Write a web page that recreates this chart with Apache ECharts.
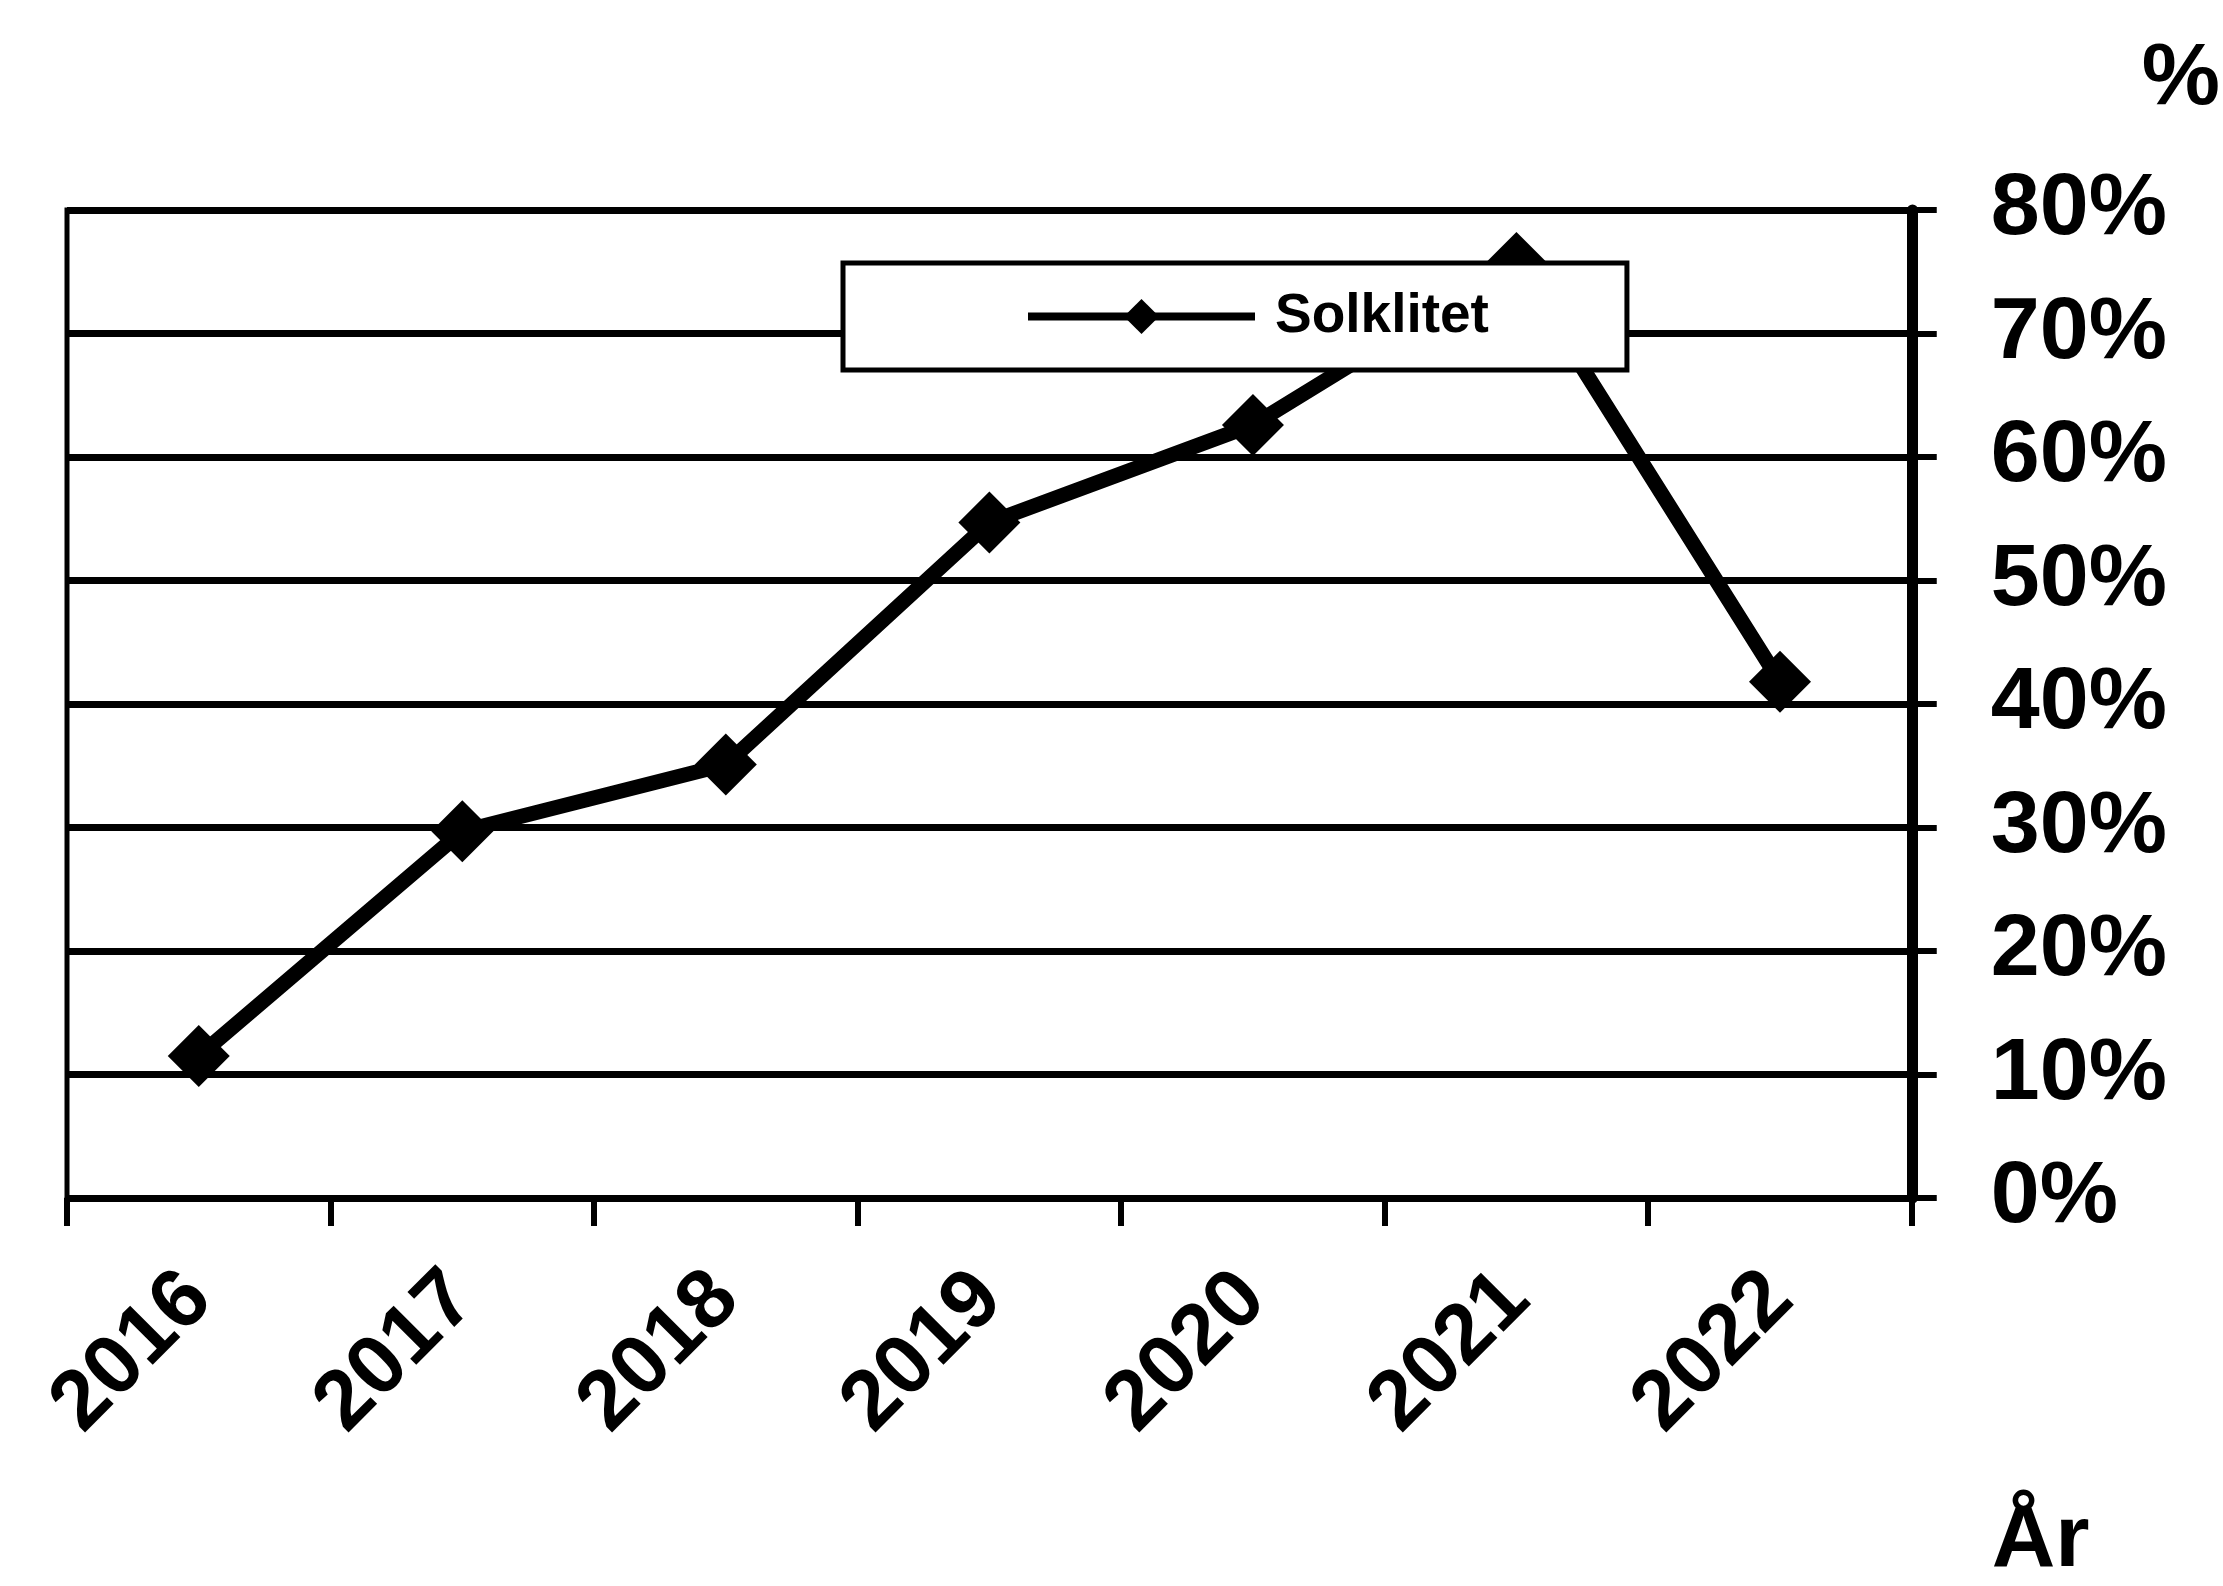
<!DOCTYPE html>
<html>
<head>
<meta charset="utf-8">
<script src="https://cdn.jsdelivr.net/npm/echarts@6/dist/echarts.min.js"></script>
<style>
html,body{margin:0;padding:0;background:#fff;}
#chart{width:2223px;height:1586px;}
</style>
</head>
<body>
<div id="chart"></div>
<script>
const categories = ['2016', '2017', '2018', '2019', '2020', '2021', '2022'];
const seriesName = 'Solklitet';
const seriesValues = [11.5, 29.7, 35.1, 54.7, 62.6, 75.7, 41.8];
const yTicks = [0, 10, 20, 30, 40, 50, 60, 70, 80];
const yAxisName = '%';
const xAxisName = 'År';

const FONT = '"Liberation Sans", Arial, sans-serif';
const chart = echarts.init(document.getElementById('chart'), null, {renderer: 'canvas'});

chart.setOption({
  backgroundColor: '#ffffff',
  animation: false,
  textStyle: {fontFamily: FONT, color: '#000'},
  grid: {
    left: 67, right: 295, top: 210, bottom: 388,
    show: true, borderColor: '#000', borderWidth: 5, backgroundColor: 'transparent'
  },
  legend: {
    left: 843, top: 263,
    data: [seriesName],
    backgroundColor: '#fff',
    borderColor: '#000', borderWidth: 5,
    padding: [26, 138, 26, 181],
    itemWidth: 227, itemHeight: 44,
    lineStyle: {width: 8, color: '#000'},
    textStyle: {fontFamily: FONT, fontSize: 55, fontWeight: 'bold', color: '#000', padding: [0, 0, 0, 15], lineHeight: 50}
  },
  xAxis: {
    type: 'category',
    data: categories,
    boundaryGap: true,
    name: xAxisName,
    nameLocation: 'end',
    nameGap: 80,
    nameMoveOverlap: false,
    nameTextStyle: {fontFamily: FONT, fontSize: 88, fontWeight: 'bold', color: '#000', align: 'left', verticalAlign: 'top', lineHeight: 88, padding: [300, 0, 0, 0]},
    axisLine: {show: true, lineStyle: {color: '#000', width: 5}},
    axisTick: {show: true, length: 28, lineStyle: {color: '#000', width: 6}},
    axisLabel: {rotate: 45, margin: 88, fontSize: 84, fontWeight: 'bold', color: '#000', fontFamily: FONT, interval: 0},
    splitLine: {show: false}
  },
  yAxis: {
    type: 'value',
    position: 'right',
    min: yTicks[0],
    max: yTicks[yTicks.length - 1],
    interval: yTicks[1] - yTicks[0],
    name: yAxisName,
    nameLocation: 'end',
    nameGap: 130,
    nameMoveOverlap: false,
    nameTextStyle: {fontFamily: FONT, fontSize: 88, fontWeight: 'bold', color: '#000', align: 'left', verticalAlign: 'middle', padding: [0, 0, 0, 230]},
    axisLine: {show: true, lineStyle: {color: '#000', width: 11}},
    axisTick: {show: true, inside: false, length: 25, lineStyle: {color: '#000', width: 6}},
    axisLabel: {margin: 79, fontSize: 88, fontWeight: 'bold', color: '#000', fontFamily: FONT, formatter: '{value}%'},
    splitLine: {show: true, lineStyle: {color: '#000', width: 7}}
  },
  series: [{
    name: seriesName,
    type: 'line',
    data: seriesValues,
    symbol: 'diamond',
    symbolSize: 62,
    color: '#000',
    itemStyle: {color: '#000'},
    lineStyle: {color: '#000', width: 15},
    z: 2
  }]
});
</script>
</body>
</html>
